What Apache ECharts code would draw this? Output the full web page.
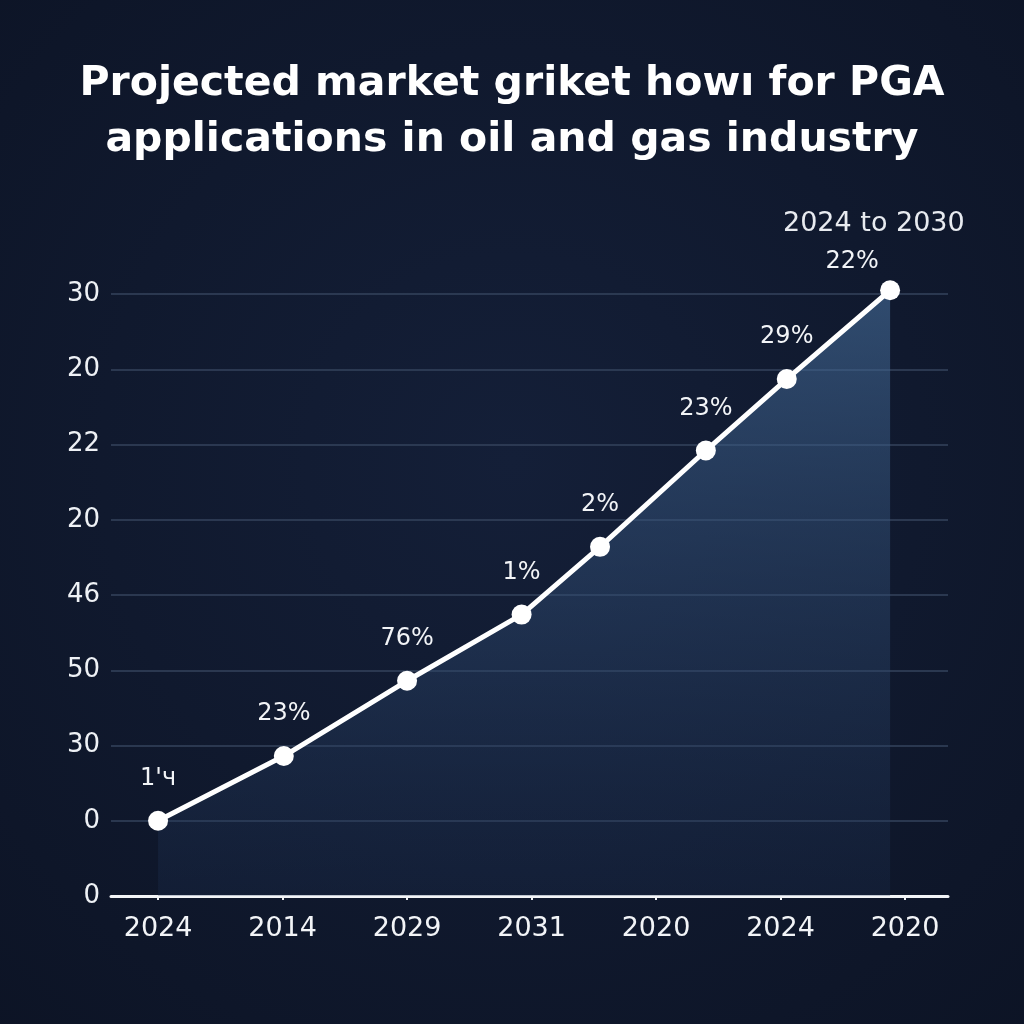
<!DOCTYPE html>
<html>
<head>
<meta charset="utf-8">
<script src="https://cdn.jsdelivr.net/npm/echarts@6/dist/echarts.min.js"></script>
<style>
  html, body { margin: 0; padding: 0; background: #0f172a; }
  #chart { width: 1024px; height: 1024px; }
</style>
</head>
<body>
<div id="chart"></div>
<script>
// tick labels as printed on the picture
var xTickLabels = ['2024', '2014', '2029', '2031', '2020', '2024', '2020'];
var yTickLabels = ['0', '0', '30', '50', '46', '20', '22', '20', '30'];

// points: position along the x axis (tick index units) and height (gridline units)
var pointX = [0, 1.01, 2.0, 2.92, 3.55, 4.40, 5.05, 5.88];
var pointY = [1.0, 1.86, 2.86, 3.74, 4.64, 5.92, 6.87, 8.05];
var pointLabels = ["1'ч", '23%', '76%', '1%', '2%', '23%', '29%', '22%'];

var chart = echarts.init(document.getElementById('chart'));

var seriesData = pointX.map(function (x, i) {
  var item = { value: [x, pointY[i]], name: pointLabels[i] };
  if (i === pointX.length - 1) {
    item.label = { position: 'top', distance: 12, offset: [-38, 6] };
  }
  return item;
});

var option = {
  backgroundColor: {
    type: 'radial', x: 0.5, y: 0.45, r: 0.8,
    colorStops: [
      { offset: 0, color: '#141f38' },
      { offset: 1, color: '#0c1324' }
    ]
  },
  title: [
    {
      text: 'Projected market griket howı for PGA\napplications in oil and gas industry',
      left: 'center',
      top: 51,
      textStyle: {
        color: '#ffffff',
        fontFamily: 'DejaVu Sans',
        fontWeight: 'bold',
        fontSize: 41,
        lineHeight: 56
      }
    },
    {
      text: '2024 to 2030',
      left: 778,
      top: 205,
      textStyle: {
        color: '#e8ebf0',
        fontFamily: 'DejaVu Sans',
        fontWeight: 'normal',
        fontSize: 27
      }
    }
  ],
  grid: { left: 111, right: 76, top: 294, bottom: 128 },
  xAxis: {
    type: 'value',
    min: -0.378,
    max: 6.345,
    axisLine: { show: true, lineStyle: { color: '#f2f4f7', width: 3 } },
    axisTick: {
      show: true, length: 4, inside: false,
      customValues: [0, 1, 2, 3, 4, 5, 6],
      lineStyle: { color: '#f2f4f7', width: 2 }
    },
    splitLine: { show: false },
    axisLabel: {
      customValues: [0, 1, 2, 3, 4, 5, 6],
      formatter: function (v) { return xTickLabels[Math.round(v)]; },
      color: '#f2f4f7',
      fontFamily: 'DejaVu Sans',
      fontSize: 27,
      margin: 19
    }
  },
  yAxis: {
    type: 'value',
    min: 0,
    max: 8,
    interval: 1,
    axisLine: { show: false },
    axisTick: { show: false },
    splitLine: { show: true, lineStyle: { color: '#34435c', width: 1.5 } },
    axisLabel: {
      formatter: function (v) { return yTickLabels[Math.round(v)]; },
      color: '#eef1f5',
      fontFamily: 'DejaVu Sans',
      fontSize: 26,
      margin: 11
    }
  },
  series: [
    {
      type: 'line',
      data: seriesData,
      clip: false,
      symbol: 'circle',
      symbolSize: 20,
      itemStyle: { color: '#ffffff' },
      lineStyle: { color: '#ffffff', width: 5 },
      areaStyle: {
        origin: 'start',
        color: {
          type: 'linear', x: 0, y: 0, x2: 0, y2: 1,
          colorStops: [
            { offset: 0, color: 'rgba(70, 110, 155, 0.85)' },
            { offset: 1, color: 'rgba(30, 50, 85, 0.35)' }
          ]
        }
      },
      label: {
        show: true,
        position: 'top',
        distance: 20,
        formatter: function (p) { return p.name; },
        color: '#f2f4f7',
        fontFamily: 'DejaVu Sans',
        fontSize: 24
      },
      z: 3
    }
  ]
};

chart.setOption(option);
</script>
</body>
</html>
